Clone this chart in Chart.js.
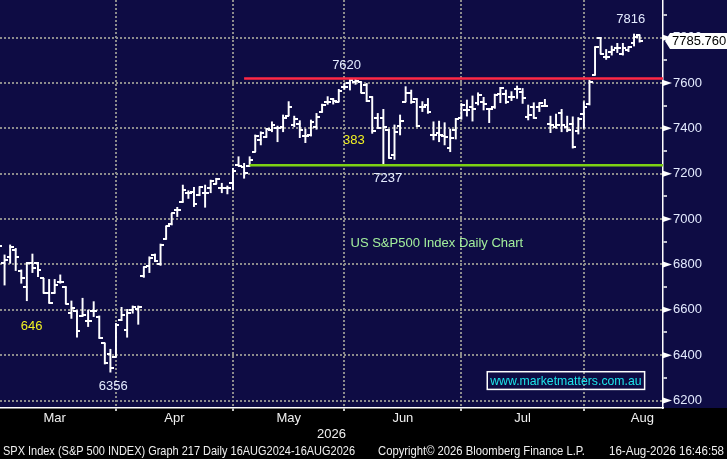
<!DOCTYPE html>
<html><head><meta charset="utf-8">
<script src="https://cdn.jsdelivr.net/npm/chart.js@4.4.1/dist/chart.umd.min.js"></script>
<style>html,body{margin:0;padding:0;background:#000;overflow:hidden}</style>
</head><body>
<canvas id="c" width="727" height="459"></canvas>
<script>
// ---- DATA (one entry per trading day, index 0 = 2 Mar 2026) ----
const openVals  = [6850,6850,6805,6834,6864,6773,6699,6805,6805,6739,6673,6673,6721,6702,6584,6595,6574,6552,6595,6570,6452,6405,6393,6555,6511,6599,6604,6751,6793,6842,6801,6911,6978,7040,7074,7116,7121,7106,7113,7135,7155,7135,7135,7161,7238,7228,7234,7297,7349,7363,7393,7400,7404,7456,7415,7419,7366,7371,7407,7471,7518,7528,7518,7584,7598,7605,7606,7590,7540,7444,7444,7393,7282,7410,7518,7554,7528,7493,7503,7371,7380,7366,7312,7393,7444,7481,7496,7510,7518,7484,7493,7551,7551,7540,7572,7559,7449,7496,7496,7500,7419,7407,7469,7407,7419,7390,7463,7507,7635,7797,7716,7738,7756,7730,7745,7775,7810];
const highVals  = [6880,6895,6842,6886,6871,6776,6809,6846,6809,6739,6734,6734,6754,6702,6639,6595,6651,6599,6636,6573,6452,6426,6540,6611,6602,6617,6617,6790,6834,6846,6890,6969,7025,7052,7150,7125,7140,7143,7150,7172,7180,7158,7146,7224,7275,7246,7275,7371,7385,7400,7429,7410,7459,7518,7454,7434,7397,7437,7466,7507,7540,7532,7572,7598,7620,7618,7606,7598,7540,7466,7484,7396,7415,7459,7584,7569,7532,7518,7532,7429,7432,7425,7397,7444,7510,7525,7543,7557,7537,7488,7551,7581,7569,7562,7587,7576,7503,7513,7513,7528,7454,7463,7484,7454,7451,7448,7518,7613,7760,7801,7748,7763,7775,7775,7760,7816,7812];
const lowVals   = [6800,6830,6709,6805,6773,6717,6640,6764,6746,6673,6629,6673,6717,6626,6562,6479,6570,6526,6570,6474,6361,6325,6393,6552,6479,6585,6536,6743,6764,6812,6796,6911,6974,7011,7074,7091,7055,7103,7052,7116,7155,7116,7111,7128,7234,7180,7234,7297,7327,7360,7385,7341,7385,7456,7407,7359,7337,7366,7396,7471,7506,7507,7518,7572,7569,7594,7557,7518,7378,7400,7237,7268,7263,7371,7518,7510,7407,7474,7466,7349,7341,7327,7297,7353,7440,7454,7432,7503,7481,7425,7488,7513,7510,7522,7532,7510,7437,7444,7474,7496,7381,7400,7385,7385,7313,7375,7400,7503,7635,7728,7704,7723,7734,7723,7738,7763,7780];
const closeVals = [6830,6880,6820,6878,6834,6739,6805,6783,6776,6673,6632,6709,6721,6626,6607,6507,6577,6552,6595,6474,6367,6342,6533,6577,6585,6611,6614,6787,6827,6817,6886,6969,7025,7040,7128,7116,7065,7140,7113,7169,7177,7135,7135,7213,7236,7202,7260,7368,7381,7397,7415,7403,7447,7496,7440,7393,7366,7429,7451,7503,7518,7522,7566,7584,7613,7610,7557,7520,7388,7403,7404,7268,7385,7432,7557,7518,7410,7493,7474,7371,7371,7360,7356,7440,7503,7481,7484,7547,7506,7484,7547,7576,7518,7540,7572,7532,7459,7444,7510,7500,7415,7415,7415,7393,7320,7440,7493,7606,7760,7728,7716,7745,7756,7753,7760,7804,7785.76];
const monthNames    = ['Mar','Apr','May','Jun','Jul','Aug'];
const monthStartIdx = [0,22,43,63,84,106,127];
const yTickValues   = [6200,6300,6400,6500,6600,6700,6800,6900,7000,7100,7200,7300,7400,7500,7600,7700,7800,7900];
const resistance = 7620, resistanceFromIdx = 45;
const support    = 7237, supportFromIdx    = 46;
const lastPrice  = 7785.760;

// ---- styling ----
const NAVY = '#0e0c44';
const GRID = '#8c8c8c';
const TXT = '#e4ebff';
const YEL = '#f2f222';
const CLEAR = 'rgba(0,0,0,0)';
const FONT = '"Liberation Sans", Arial, sans-serif';
const NARROW = '"Liberation Sans Narrow", "Liberation Sans", Arial, sans-serif';
const X_MIN = 1.18, X_MAX = 120.2, Y_MIN = 6167, Y_MAX = 7966;

const idx = openVals.map((_, i) => i);
const rangeData = idx.map(i => ({x: i, y: [lowVals[i], highVals[i]]}));
const openData  = idx.map(i => ({x: i, y: openVals[i]}));
const closeData = idx.map(i => ({x: i, y: closeVals[i]}));

function tickImg(side) {
  const c = document.createElement('canvas');
  c.width = 7; c.height = 2;
  const g = c.getContext('2d');
  g.fillStyle = '#ffffff';
  if (side < 0) g.fillRect(0, 0, 4, 2); else g.fillRect(3, 0, 4, 2);
  return c;
}

const monthMid = monthNames.map((_, k) => (monthStartIdx[k] + monthStartIdx[k + 1]) / 2);
const isMonthStart = c => !!(c && c.tick) && monthStartIdx.includes(c.tick.value);
const isMajorY = c => !!(c && c.tick) && c.tick.value % 200 === 0;

const bgPlugin = {
  id: 'bg',
  beforeDraw(chart) {
    const {ctx, chartArea: a} = chart;
    ctx.save();
    ctx.fillStyle = '#000';
    ctx.fillRect(0, 0, chart.width, chart.height);
    ctx.fillStyle = NAVY;
    ctx.fillRect(0, 0, chart.width, a.bottom);
    ctx.restore();
  }
};

const notes = [
  {t: '7816', i: 114.4, v: 7882, c: TXT},
  {t: '7620', i: 63.4, v: 7676, c: TXT},
  {t: '383',  i: 64.7, v: 7349, c: YEL},
  {t: '7237', i: 70.8, v: 7181, c: TXT},
  {t: '646',  i: 6.87, v: 6525, c: YEL},
  {t: '6356', i: 21.5, v: 6264, c: TXT}
];

const overlay = {
  id: 'overlay',
  afterDraw(chart) {
    const {ctx, chartArea: a, scales: {x, y}} = chart;
    ctx.save();
    ctx.fillStyle = '#fff';
    y.ticks.forEach(t => {
      if (t.value % 200 === 0) {
        const py = y.getPixelForValue(t.value);
        ctx.beginPath();
        ctx.moveTo(a.right, py - 3);
        ctx.lineTo(a.right + 9, py);
        ctx.lineTo(a.right, py + 3);
        ctx.closePath();
        ctx.fill();
      }
    });
    const pp = y.getPixelForValue(lastPrice);
    ctx.beginPath();
    ctx.moveTo(a.right + 2, pp);
    ctx.lineTo(a.right + 7, pp - 8);
    ctx.lineTo(chart.width, pp - 8);
    ctx.lineTo(chart.width, pp + 8);
    ctx.lineTo(a.right + 7, pp + 8);
    ctx.closePath();
    ctx.fillStyle = '#fff';
    ctx.fill();
    ctx.fillStyle = '#000';
    ctx.font = '13px ' + FONT;
    ctx.textBaseline = 'middle';
    ctx.textAlign = 'left';
    ctx.fillText(lastPrice.toFixed(3), a.right + 9, pp + 1);

    ctx.textAlign = 'center';
    notes.forEach(n => {
      ctx.fillStyle = n.c;
      ctx.fillText(n.t, x.getPixelForValue(n.i), y.getPixelForValue(n.v));
    });
    ctx.textAlign = 'left';
    ctx.fillStyle = '#a2ee9c';
    ctx.fillText('US S&P500 Index Daily Chart', x.getPixelForValue(64.1), y.getPixelForValue(6893));
    const bx1 = x.getPixelForValue(88.65), bx2 = x.getPixelForValue(116.9);
    const by1 = y.getPixelForValue(6327), by2 = y.getPixelForValue(6249);
    ctx.strokeStyle = '#fff';
    ctx.lineWidth = 1.5;
    ctx.strokeRect(bx1, by1, bx2 - bx1, by2 - by1);
    ctx.fillStyle = '#1ee4ea';
    ctx.textAlign = 'center';
    ctx.fillText('www.marketmatters.com.au', (bx1 + bx2) / 2, (by1 + by2) / 2 + 1, bx2 - bx1 - 6);

    ctx.fillStyle = '#f0f0f0';
    ctx.font = '13px ' + NARROW;
    ctx.textAlign = 'center';
    ctx.fillText('2026', (a.left + a.right) / 2, a.bottom + 26);
    ctx.textAlign = 'left';
    ctx.fillText('SPX Index (S&P 500 INDEX) Graph 217 Daily 16AUG2024-16AUG2026', 3, a.bottom + 43, 352);
    ctx.fillText('Copyright\u00A9 2026 Bloomberg Finance L.P.', 378, a.bottom + 43, 207);
    ctx.textAlign = 'right';
    ctx.fillText('16-Aug-2026 16:46:58', chart.width - 3, a.bottom + 43, 115);
    ctx.restore();
  }
};

new Chart(document.getElementById('c'), {
  type: 'bar',
  data: {
    datasets: [
      {type: 'line', data: [{x: resistanceFromIdx, y: resistance}, {x: X_MAX + 1, y: resistance}],
       borderColor: '#ff2845', borderWidth: 2.5, pointRadius: 0},
      {type: 'line', data: [{x: supportFromIdx, y: support}, {x: X_MAX + 1, y: support}],
       borderColor: '#7ed114', borderWidth: 2.5, pointRadius: 0},
      {type: 'line', data: openData, showLine: false, pointStyle: tickImg(-1), pointRadius: 2},
      {type: 'line', data: closeData, showLine: false, pointStyle: tickImg(1), pointRadius: 2},
      {type: 'bar', data: rangeData, backgroundColor: '#ffffff', borderWidth: 0, barThickness: 1.3, grouped: false}
    ]
  },
  options: {
    responsive: false,
    maintainAspectRatio: false,
    animation: false,
    events: [],
    layout: {padding: 0, autoPadding: false},
    plugins: {legend: {display: false}, tooltip: {enabled: false}},
    scales: {
      x: {
        type: 'linear', min: X_MIN, max: X_MAX, offset: false,
        afterBuildTicks(s) {
          const t = [];
          monthNames.forEach((_, k) => {
            if (monthStartIdx[k] >= X_MIN) t.push({value: monthStartIdx[k]});
            t.push({value: monthMid[k]});
          });
          t.sort((p, q) => p.value - q.value);
          s.ticks = t;
        },
        afterFit(s) { s.height = 51; s.paddingLeft = 0; s.paddingRight = 0; },
        ticks: {
          autoSkip: false, maxRotation: 0, padding: 0, color: '#f0f0f0',
          font: {family: NARROW, size: 13},
          callback(v) { const k = monthMid.indexOf(v); return k >= 0 ? monthNames[k] : ''; }
        },
        grid: {
          offset: false,
          color: c => isMonthStart(c) ? GRID : CLEAR,
          tickColor: c => isMonthStart(c) ? '#ffffff' : CLEAR,
          lineWidth: 2, tickLength: 3, tickWidth: 1.5
        },
        border: {display: true, color: '#ffffff', width: 1.5, dash: [2, 2]}
      },
      y: {
        type: 'linear', position: 'right', min: Y_MIN, max: Y_MAX,
        afterBuildTicks(s) { s.ticks = yTickValues.map(v => ({value: v})); },
        afterFit(s) { s.width = 64; s.paddingTop = 0; s.paddingBottom = 0; },
        ticks: {
          padding: 6, color: TXT, font: {family: FONT, size: 13},
          callback(v) { return v % 200 === 0 ? String(v) : ''; }
        },
        grid: {
          color: c => isMajorY(c) ? GRID : CLEAR,
          tickColor: '#ffffff', lineWidth: 2, tickLength: 4, tickWidth: 1.5
        },
        border: {display: true, color: '#ffffff', width: 1.5, dash: [2, 2]}
      }
    }
  },
  plugins: [bgPlugin, overlay]
});
</script>
</body></html>
